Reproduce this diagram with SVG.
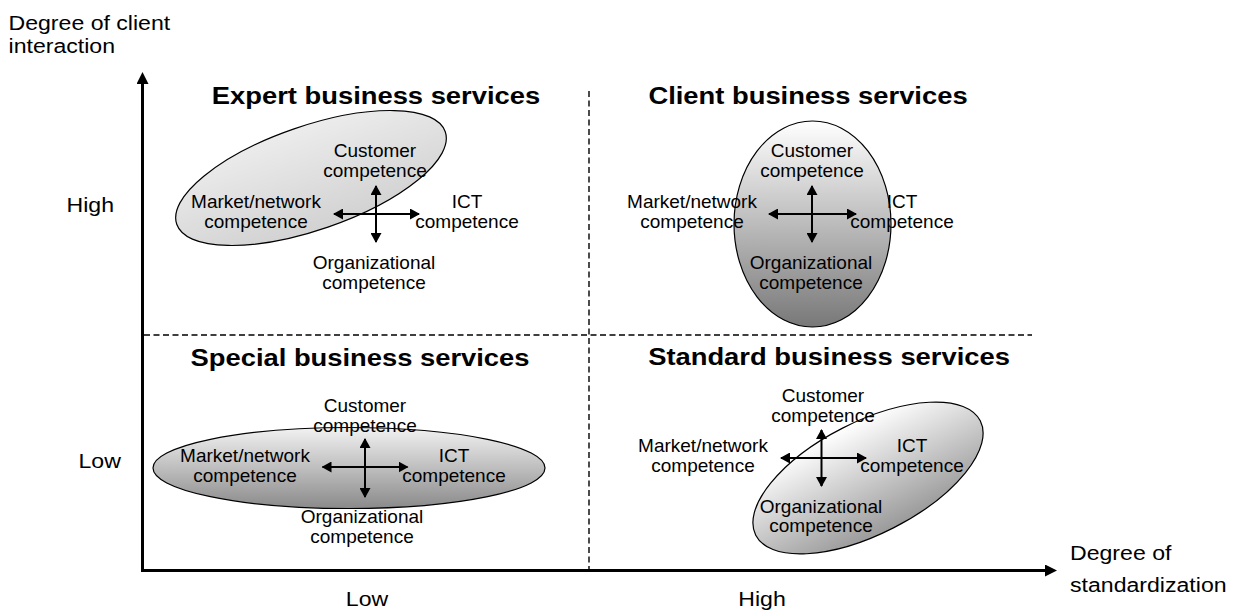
<svg xmlns="http://www.w3.org/2000/svg" width="1244" height="612" viewBox="0 0 1244 612">
<style>
text{font-family:"Liberation Sans",Arial,sans-serif;fill:#000}
.t{font-size:24px;font-weight:bold;text-anchor:middle}
.a{font-size:21px}
.am{font-size:21px;text-anchor:middle}
.s{font-size:19px;text-anchor:middle}
.el{stroke:#000;stroke-width:1.2}
.dash{stroke:#000;stroke-width:1.4;stroke-dasharray:6 3.5;fill:none}
.axis{stroke:#000;stroke-width:3;fill:none}
.cr{stroke:#000;stroke-width:2;fill:none;marker-start:url(#ah);marker-end:url(#ah)}
</style>
<defs>
<marker id="ah" viewBox="0 0 10 11" markerWidth="10" markerHeight="11" refX="9" refY="5.5" orient="auto-start-reverse" markerUnits="userSpaceOnUse"><path d="M0,0 L10,5.5 L0,11 z" fill="#000"/></marker>
<marker id="ax" viewBox="0 0 12 12" markerWidth="12" markerHeight="12" refX="4" refY="6" orient="auto" markerUnits="userSpaceOnUse"><path d="M0,0 L12,6 L0,12 z" fill="#000"/></marker>
<linearGradient id="gDark" x1="0" y1="0" x2="0" y2="1"><stop offset="0" stop-color="#ffffff"/><stop offset="1" stop-color="#787878"/></linearGradient>
<linearGradient id="gMid" x1="0" y1="0" x2="0" y2="1"><stop offset="0" stop-color="#f2f2f2"/><stop offset="1" stop-color="#8a8a8a"/></linearGradient>
<linearGradient id="gStd" x1="0" y1="0" x2="0" y2="1"><stop offset="0" stop-color="#ffffff"/><stop offset="1" stop-color="#9a9a9a"/></linearGradient>
<linearGradient id="gLight" x1="0" y1="0" x2="0" y2="1"><stop offset="0" stop-color="#ececec"/><stop offset="1" stop-color="#d2d2d2"/></linearGradient>
</defs>
<rect width="1244" height="612" fill="#fff"/>

<g id="axes">
<line class="axis" x1="142.5" y1="572" x2="142.5" y2="80" marker-end="url(#ax)"/>
<line class="axis" x1="141" y1="570.5" x2="1049" y2="570.5" marker-end="url(#ax)"/>
<line class="dash" x1="589" y1="91" x2="589" y2="569"/>
<line class="dash" x1="144" y1="335" x2="1032" y2="335"/>
<text class="a" transform="translate(8.5,30) scale(1.1,1)">Degree of client<tspan x="0" dy="23">interaction</tspan></text>
<text class="a" transform="translate(66.5,212) scale(1.1,1)">High</text>
<text class="a" transform="translate(78.5,468) scale(1.1,1)">Low</text>
<text class="am" transform="translate(367,606) scale(1.1,1)">Low</text>
<text class="am" transform="translate(762,606) scale(1.1,1)">High</text>
<text class="a" transform="translate(1070,560) scale(1.1,1)">Degree of<tspan x="0" dy="32">standardization</tspan></text>
</g>

<g id="expert">
<ellipse class="el" cx="311" cy="178" rx="142" ry="52" transform="rotate(-19 311 178)" fill="url(#gLight)"/>
<text class="t" transform="translate(376,104) scale(1.14,1)">Expert business services</text>
<text class="s" x="375" y="157">Customer<tspan x="375" dy="20">competence</tspan></text>
<text class="s" x="256" y="208">Market/network<tspan x="256" dy="20">competence</tspan></text>
<text class="s" x="467" y="208">ICT<tspan x="467" dy="20">competence</tspan></text>
<text class="s" x="374" y="269">Organizational<tspan x="374" dy="20">competence</tspan></text>
</g>

<g id="client">
<ellipse class="el" cx="812.5" cy="224" rx="78.5" ry="103" fill="url(#gDark)"/>
<text class="t" transform="translate(808,104) scale(1.14,1)">Client business services</text>
<text class="s" x="812" y="157">Customer<tspan x="812" dy="20">competence</tspan></text>
<text class="s" x="692" y="208">Market/network<tspan x="692" dy="20">competence</tspan></text>
<text class="s" x="902" y="208">ICT<tspan x="902" dy="20">competence</tspan></text>
<text class="s" x="811" y="269">Organizational<tspan x="811" dy="20">competence</tspan></text>
</g>

<g id="special">
<ellipse class="el" cx="349" cy="468" rx="196" ry="40.5" fill="url(#gMid)"/>
<text class="t" transform="translate(360,366) scale(1.14,1)">Special business services</text>
<text class="s" x="365" y="412">Customer<tspan x="365" dy="20">competence</tspan></text>
<text class="s" x="245" y="462">Market/network<tspan x="245" dy="20">competence</tspan></text>
<text class="s" x="454" y="462">ICT<tspan x="454" dy="20">competence</tspan></text>
<text class="s" x="362" y="523">Organizational<tspan x="362" dy="20">competence</tspan></text>
</g>

<g id="standard">
<ellipse class="el" cx="868" cy="478" rx="126" ry="56" transform="rotate(-27 868 478)" fill="url(#gStd)"/>
<text class="t" transform="translate(829,365) scale(1.14,1)">Standard business services</text>
<text class="s" x="823" y="402">Customer<tspan x="823" dy="20">competence</tspan></text>
<text class="s" x="703" y="452">Market/network<tspan x="703" dy="20">competence</tspan></text>
<text class="s" x="912" y="452">ICT<tspan x="912" dy="20">competence</tspan></text>
<text class="s" x="821" y="513">Organizational<tspan x="821" dy="19">competence</tspan></text>
</g>

<g id="connectors">
<line class="cr" x1="334" y1="214" x2="419" y2="214"/>
<line class="cr" x1="376" y1="186" x2="376" y2="242"/>
<line class="cr" x1="769" y1="214" x2="856" y2="214"/>
<line class="cr" x1="812" y1="186" x2="812" y2="242"/>
<line class="cr" x1="322.5" y1="467" x2="407.5" y2="467"/>
<line class="cr" x1="365" y1="439" x2="365" y2="497"/>
<line class="cr" x1="781" y1="458" x2="866" y2="458"/>
<line class="cr" x1="821.5" y1="430" x2="821.5" y2="486"/>
</g>
</svg>
